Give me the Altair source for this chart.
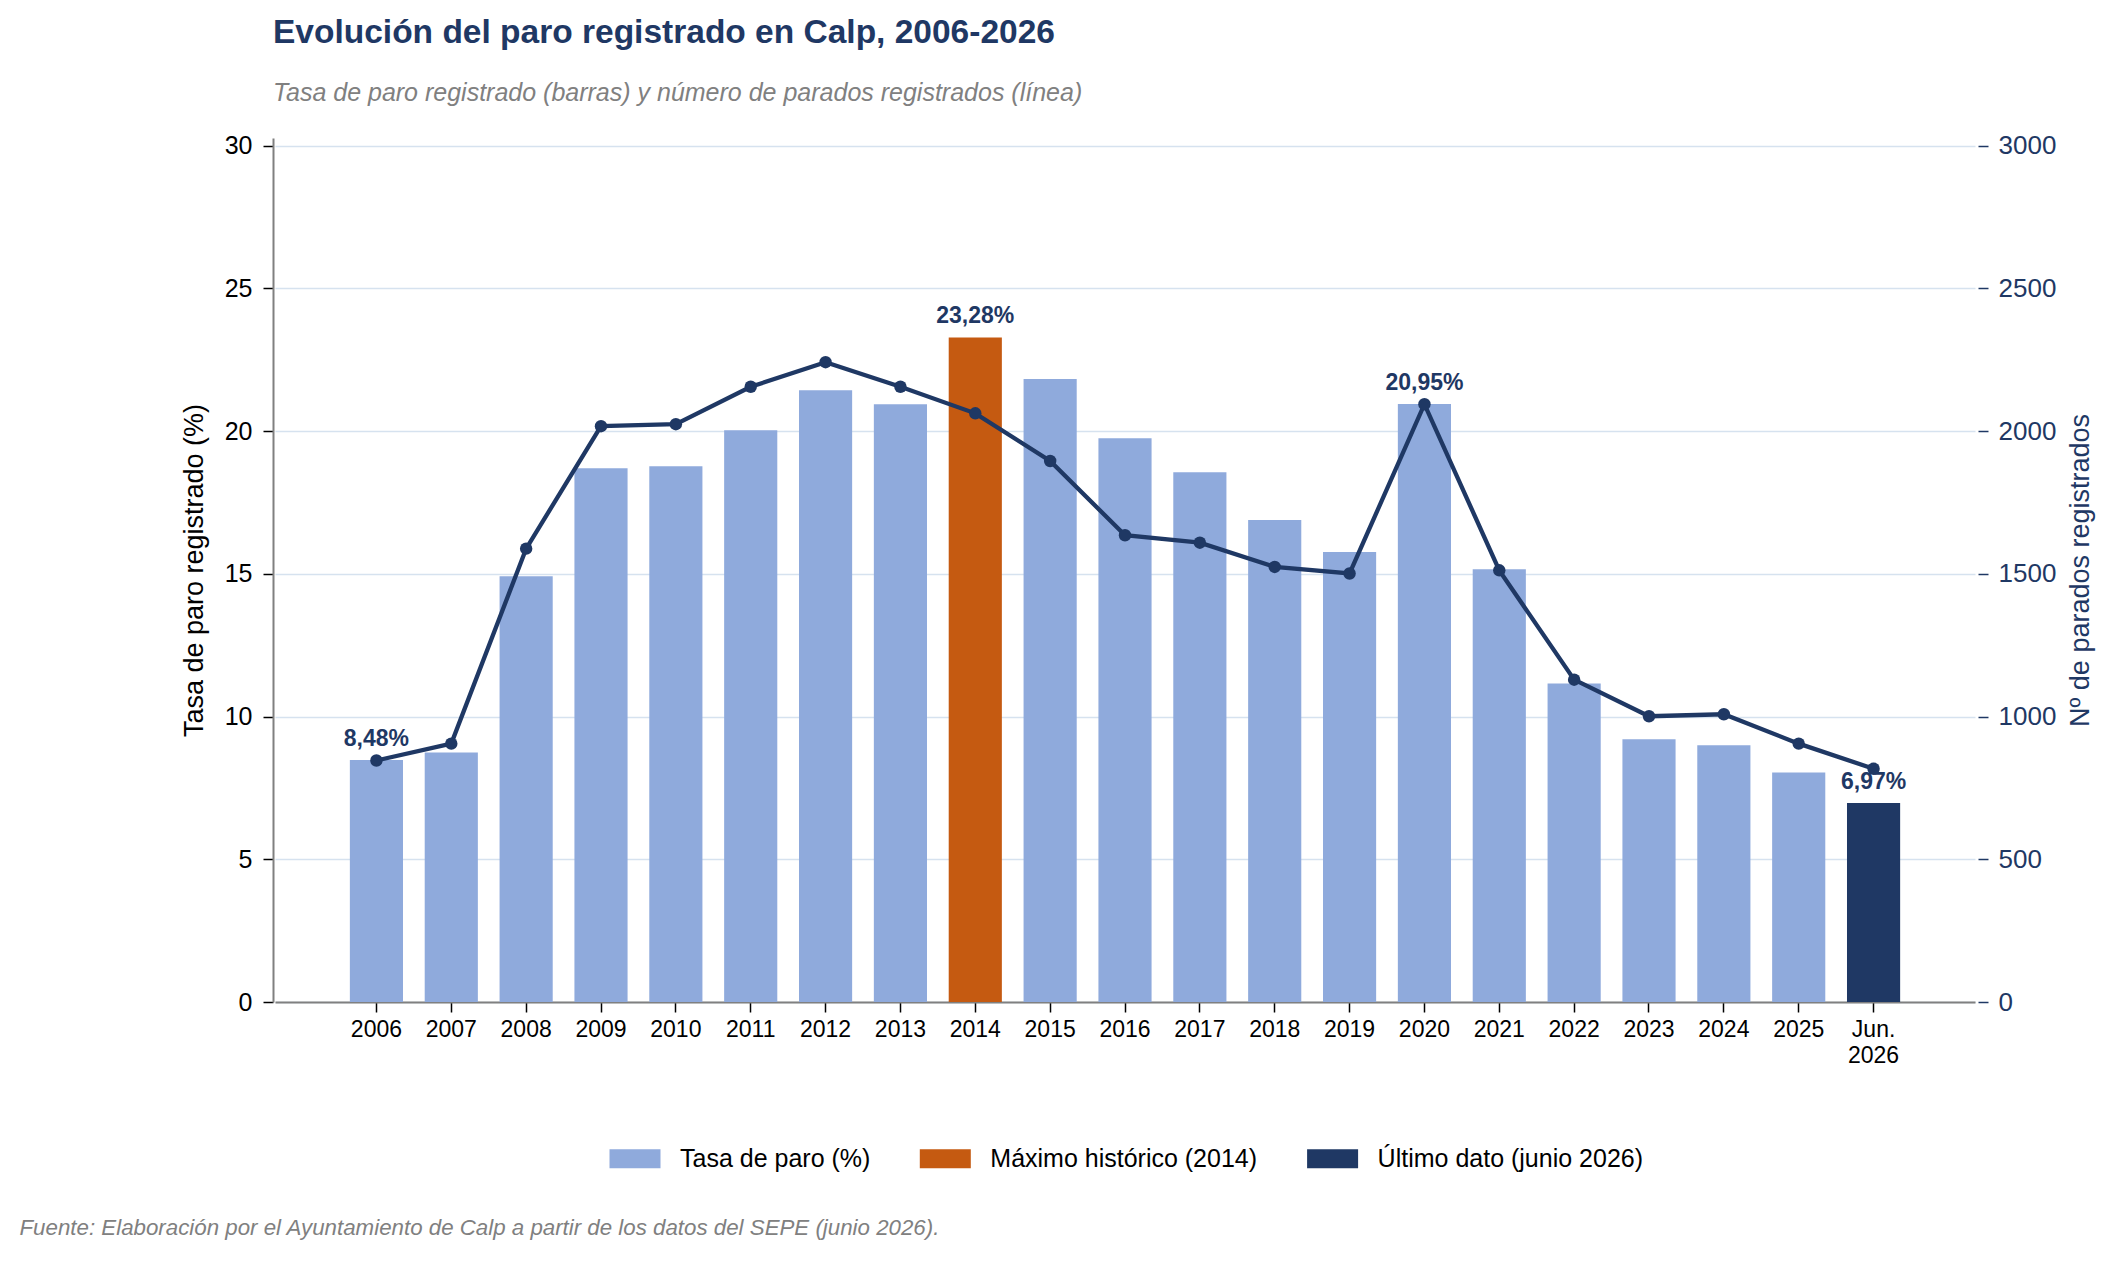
import altair as alt
import pandas as pd

# ---------------- data ----------------
periodos = ["2006", "2007", "2008", "2009", "2010", "2011", "2012", "2013", "2014",
            "2015", "2016", "2017", "2018", "2019", "2020", "2021", "2022", "2023",
            "2024", "2025", "Jun. 2026"]
tasa = [8.48, 8.74, 14.91, 18.70, 18.77, 20.03, 21.43, 20.94, 23.28, 21.82, 19.75,
        18.56, 16.88, 15.76, 20.95, 15.16, 11.16, 9.20, 8.99, 8.04, 6.97]
parados = [846, 905, 1588, 2017, 2024, 2155, 2241, 2155, 2062, 1895, 1635, 1609,
           1524, 1501, 2094, 1512, 1129, 1001, 1008, 905, 817]
categorias = ["Tasa de paro (%)", "Máximo histórico (2014)", "Último dato (junio 2026)"]
colores = ["#8FAADC", "#C55A11", "#1F3864"]
tipo_barra = [categorias[0]] * 8 + [categorias[1]] + [categorias[0]] * 11 + [categorias[2]]
destacados = ["2006", "2014", "2020", "Jun. 2026"]
ticks_tasa = [0, 5, 10, 15, 20, 25, 30]
ticks_parados = [0, 500, 1000, 1500, 2000, 2500, 3000]

titulo = "Evolución del paro registrado en Calp, 2006-2026"
subtitulo = "Tasa de paro registrado (barras) y número de parados registrados (línea)"
fuente = "Fuente: Elaboración por el Ayuntamiento de Calp a partir de los datos del SEPE (junio 2026)."

NAVY = "#1F3864"
GRAY = "#808080"
FONT = "Liberation Sans"

df = pd.DataFrame({"periodo": periodos, "tasa": tasa, "parados": parados, "tipo": tipo_barra})
df["etiqueta"] = [f"{v:.2f}".replace(".", ",") + "%" for v in tasa]
df_lab = df[df["periodo"].isin(destacados)]
df_fuente = pd.DataFrame({"fuente": [fuente]})

x_enc = alt.X(
    "periodo:N", sort=periodos, title=None,
    scale=alt.Scale(paddingInner=0.29, paddingOuter=1, range=[2, 1702]),
    axis=alt.Axis(
        labelAngle=0, labelFontSize=23, labelColor="#000000", labelFont=FONT,
        labelExpr="datum.value == 'Jun. 2026' ? ['Jun.', '2026'] : datum.value",
        labelLineHeight=26, labelPadding=6, labelBaseline="top",
        tickColor="#000000", tickSize=10, tickWidth=1.5,
        domainColor=GRAY, domainWidth=2, grid=False,
    ),
)

bars = alt.Chart(df).mark_bar().encode(
    x=x_enc,
    y=alt.Y(
        "tasa:Q",
        scale=alt.Scale(domain=[0, 30.264], nice=False, zero=True),
        axis=alt.Axis(
            values=ticks_tasa, title="Tasa de paro registrado (%)",
            titleFontSize=27, titleFontWeight="normal", titleColor="#000000", titleFont=FONT,
            titlePadding=16,
            labelFontSize=25, labelColor="#000000", labelFont=FONT, labelPadding=11,
            tickColor="#000000", tickSize=10, tickWidth=1.5,
            domainColor=GRAY, domainWidth=2,
            grid=True, gridColor="#D6E2EF", gridWidth=1.6,
        ),
    ),
    color=alt.Color(
        "tipo:N",
        scale=alt.Scale(domain=categorias, range=colores),
        legend=alt.Legend(
            title=None, orient="none", direction="horizontal",
            legendX=336.5, legendY=995,
            symbolType="M-1,-0.373H1V0.373H-1Z", symbolSize=2601, symbolStrokeWidth=0,
            labelFontSize=25, labelFont=FONT, labelColor="#000000", labelLimit=500,
            labelOffset=19.5, columnPadding=49.3,
        ),
    ),
)

labels = alt.Chart(df_lab).mark_text(
    baseline="alphabetic", dy=-14, fontSize=23, fontWeight="bold", color=NAVY, font=FONT
).encode(x=x_enc, y=alt.Y("tasa:Q"), text="etiqueta:N")

foot = alt.Chart(df_fuente).mark_text(
    align="left", baseline="alphabetic", fontSize=22.3, fontStyle="italic", color=GRAY, font=FONT
).encode(x=alt.value(-253.5), y=alt.value(1097), text="fuente:N")

left = alt.layer(bars, labels, foot)

line = alt.Chart(df).mark_line(color=NAVY, strokeWidth=4.3).encode(
    x=x_enc,
    y=alt.Y(
        "parados:Q",
        scale=alt.Scale(domain=[0, 3026.4], nice=False, zero=True),
        axis=alt.Axis(
            orient="right", values=ticks_parados, format="d", title="Nº de parados registrados",
            titleFontSize=27, titleFontWeight="normal", titleColor=NAVY, titleFont=FONT,
            titleAngle=270, titleBaseline="top", titlePadding=12,
            labelFontSize=26, labelColor=NAVY, labelFont=FONT, labelPadding=10,
            tickColor=NAVY, tickSize=10, tickWidth=1.5,
            domain=False, grid=False,
        ),
    ),
)
pts = alt.Chart(df).mark_circle(color=NAVY, size=155, opacity=1).encode(
    x=x_enc, y=alt.Y("parados:Q")
)
right = alt.layer(line, pts)

chart = alt.layer(left, right).resolve_scale(y="independent").properties(
    width=1705, height=864,
    title=alt.TitleParams(
        text=titulo, subtitle=subtitulo, anchor="start", frame="group",
        font=FONT, fontSize=33.5, fontWeight="bold", color=NAVY,
        subtitleFont=FONT, subtitleFontSize=25, subtitleFontStyle="italic", subtitleColor=GRAY,
        subtitlePadding=30, offset=26,
    ),
    autosize=alt.AutoSizeParams(type="none"),
    padding={"left": 265, "top": 130, "right": 130, "bottom": 250},
).configure(font=FONT, background="white").configure_view(stroke=None)

chart.save("out.html", embed_options={"renderer": "svg", "actions": False})
